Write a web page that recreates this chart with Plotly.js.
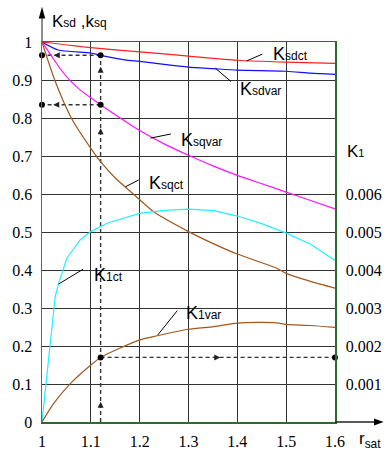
<!DOCTYPE html>
<html>
<head>
<meta charset="utf-8">
<script src="https://cdn.plot.ly/plotly-3.0.1.min.js"></script>
<style>html,body{margin:0;padding:0;background:#fff;}#chart{width:386px;height:450px;}</style>
</head>
<body>
<div id="chart"></div>
<script>
// ---- data ----
const ksdctR  = [1.0, 1.1, 1.2, 1.3, 1.4, 1.5, 1.6];
const ksdctV  = [1.0, 0.985, 0.974, 0.963, 0.952, 0.947, 0.944];

const ksdvarR = [1.0, 1.033, 1.1, 1.12, 1.17, 1.2, 1.25, 1.3, 1.35, 1.4, 1.5, 1.55, 1.6];
const ksdvarV = [1.0, 0.979, 0.971, 0.965, 0.953, 0.949, 0.941, 0.934, 0.93, 0.926, 0.923, 0.918, 0.915];

const ksqvarR = [1.0, 1.02, 1.04, 1.06, 1.08, 1.1, 1.12, 1.16, 1.2, 1.25, 1.3, 1.35, 1.4, 1.45, 1.5, 1.55, 1.6];
const ksqvarV = [1.0, 0.962, 0.925, 0.895, 0.872, 0.853, 0.835, 0.8, 0.767, 0.732, 0.702, 0.674, 0.649, 0.627, 0.605, 0.583, 0.561];

const ksqctR  = [1.0, 1.026, 1.06, 1.1, 1.12, 1.15, 1.187, 1.229, 1.3, 1.379, 1.4, 1.482, 1.5, 1.55, 1.6];
const ksqctV  = [1.0, 0.9, 0.8, 0.72, 0.685, 0.642, 0.6, 0.553, 0.501, 0.453, 0.442, 0.404, 0.391, 0.37, 0.352];

const k1ctR   = [1.0, 1.027, 1.034, 1.051, 1.078, 1.1, 1.133, 1.2, 1.25, 1.3, 1.352, 1.4, 1.45, 1.5, 1.55, 1.6];
const k1ctV   = [0, 0.0033, 0.00365, 0.00431, 0.00479, 0.00501, 0.00523, 0.00549, 0.00557, 0.0056, 0.00556, 0.00542, 0.00522, 0.00497, 0.00468, 0.00425];

const k1varR  = [1.0, 1.024, 1.058, 1.1, 1.12, 1.2, 1.236, 1.3, 1.352, 1.4, 1.44, 1.48, 1.5, 1.55, 1.6];
const k1varV  = [0, 0.00049, 0.00101, 0.0015, 0.0017, 0.00216, 0.00227, 0.00244, 0.00251, 0.0026, 0.00262, 0.00261, 0.00257, 0.00254, 0.00249];

// reading example at r_sat = 1.12
const readR = 1.12;
const readKsd = 0.965;
const readKsq = 0.835;
const readK1 = 0.0017;

const xTicks = [1, 1.1, 1.2, 1.3, 1.4, 1.5, 1.6];
const yTicks = [0, 0.1, 0.2, 0.3, 0.4, 0.5, 0.6, 0.7, 0.8, 0.9, 1];
const y2Ticks = [0.001, 0.002, 0.003, 0.004, 0.005, 0.006];

const rMin = 1.0, rMax = 1.6;

// ---- styles ----
const brown = '#a0581e';
const dashStyle = {color: '#333', width: 1.4, dash: '4px,3px'};
function curve(x, y, color, yaxis, smooth) {
  const ln = {color: color, width: 1.2};
  if (smooth) { ln.shape = 'spline'; ln.smoothing = 0.6; }
  return {x: x, y: y, type: 'scatter', mode: 'lines', yaxis: yaxis || 'y', line: ln, hoverinfo: 'skip'};
}
function dashed(x, y, yaxis) {
  return {x: x, y: y, type: 'scatter', mode: 'lines', yaxis: yaxis || 'y',
          line: dashStyle, hoverinfo: 'skip', cliponaxis: false};
}
function dots(x, y, yaxis) {
  return {x: x, y: y, type: 'scatter', mode: 'markers', yaxis: yaxis || 'y',
          marker: {color: '#000', size: 6}, hoverinfo: 'skip', cliponaxis: false};
}

const traces = [
  dashed([readR, readR], [0, readKsd]),
  dashed([readR, rMin], [readKsd, readKsd]),
  dashed([readR, rMin], [readKsq, readKsq]),
  dashed([readR, rMax], [readK1, readK1], 'y2'),
  curve(ksdctR, ksdctV, '#ff2020', 'y', true),
  curve(ksdvarR, ksdvarV, '#1010ff', 'y', true),
  curve(ksqvarR, ksqvarV, '#ff10ff', 'y', true),
  curve(ksqctR, ksqctV, brown, 'y', true),
  curve(k1ctR, k1ctV, '#20f0ff', 'y2', false),
  curve(k1varR, k1varV, brown, 'y2', true),
  dots([rMin, readR, rMin, readR], [readKsd, readKsd, readKsq, readKsq]),
  dots([readR, rMax], [readK1, readK1], 'y2')
];

const labFont = {family: 'Liberation Sans, Arial, sans-serif', size: 18, color: '#000'};
function lab(x, y, main, sub, yref) {
  return {x: x, y: y, xref: 'x', yref: yref || 'y', xanchor: 'left', yanchor: 'middle',
          showarrow: false, font: labFont,
          text: main + "<span style='font-size:12px'>" + sub + "</span>"};
}
function arrow(x, y, ax, ay, yref) {
  return {x: x, y: y, xref: 'x', yref: yref || 'y', ax: ax, ay: ay, text: '',
          showarrow: true, arrowhead: 2, arrowsize: 1, arrowwidth: 1.2, arrowcolor: '#222', standoff: 0};
}

const annotations = [
  lab(1.468, 0.968, 'K', 'sdct'),
  lab(1.402, 0.876, 'K', 'sdvar'),
  lab(1.281, 0.742, 'K', 'sqvar'),
  lab(1.215, 0.629, 'K', 'sqct'),
  lab(1.102, 0.387, 'K', '1ct'),
  lab(1.290, 0.287, 'K', '1var'),
  {x: 0.026, y: 1.055, xref: 'paper', yref: 'paper', xanchor: 'left', yanchor: 'middle', showarrow: false,
   font: {family: 'Liberation Sans, Arial, sans-serif', size: 17, color: '#000'},
   text: "K<span style='font-size:12px'>sd</span> ,k<span style='font-size:12px'>sq</span>"},
  {x: 1.035, y: 0.713, xref: 'paper', yref: 'paper', xanchor: 'left', yanchor: 'middle', showarrow: false,
   font: {family: 'Liberation Sans, Arial, sans-serif', size: 17, color: '#000'},
   text: "K<span style='font-size:11px'>1</span>"},
  {x: 1.075, y: -0.048, xref: 'paper', yref: 'paper', xanchor: 'left', yanchor: 'middle', showarrow: false,
   font: {family: 'Liberation Sans, Arial, sans-serif', size: 17, color: '#000'},
   text: "r<sub>sat</sub>"},
  arrow(1.024, readKsd, 7, 0),
  arrow(1.023, readKsq, 7, 0),
  arrow(readR, 0.935, 0, 7),
  arrow(readR, 0.773, 0, 7),
  arrow(readR, 0.053, 0, 7),
  arrow(1.365, readK1, -7, 0, 'y2')
];

const lineSeg = (x0, y0, x1, y1) => ({type: 'line', xref: 'x', yref: 'y', x0: x0, y0: y0, x1: x1, y1: y1,
                                       line: {color: '#000', width: 1}});
const shapes = [
  // leader lines for curve labels
  lineSeg(1.419, 0.950, 1.451, 0.968),
  lineSeg(1.355, 0.931, 1.387, 0.896),
  lineSeg(1.222, 0.747, 1.264, 0.758),
  lineSeg(1.171, 0.619, 1.198, 0.637),
  lineSeg(1.034, 0.363, 1.084, 0.402),
  lineSeg(1.237, 0.229, 1.277, 0.293),
  // axis extensions with arrowheads
  {type: 'line', xref: 'paper', yref: 'paper', x0: 0, y0: 1, x1: 0, y1: 1.07, line: {color: '#666', width: 1.5}},
  {type: 'path', xref: 'paper', yref: 'paper', path: 'M -0.011 1.062 L 0.011 1.062 L 0 1.093 Z', fillcolor: '#000', line: {width: 0}},
  {type: 'line', xref: 'paper', yref: 'paper', x0: 1, y0: 0, x1: 1.14, y1: 0, line: {color: '#222', width: 1.5}},
  {type: 'path', xref: 'paper', yref: 'paper', path: 'M 1.133 -0.009 L 1.133 0.009 L 1.166 0 Z', fillcolor: '#000', line: {width: 0}}
];

const tickFont = {family: "'Liberation Serif', 'Times New Roman', serif", size: 16, color: '#000'};

const layout = {
  width: 386, height: 450,
  margin: {l: 42, r: 51, t: 42, b: 28, pad: 0},
  paper_bgcolor: '#fff', plot_bgcolor: '#fff',
  showlegend: false,
  xaxis: {range: [rMin, rMax], tickvals: xTicks, ticks: '', showgrid: true, gridcolor: '#333', gridwidth: 1,
          zeroline: false, showline: true, linecolor: '#2d6a2d', linewidth: 1.5, mirror: true,
          tickfont: tickFont, ticklabelstandoff: 4, fixedrange: true},
  yaxis: {range: [0, 1], tickvals: yTicks, ticks: '', showgrid: true, gridcolor: '#333', gridwidth: 1,
          zeroline: false, showline: true, linecolor: '#666', linewidth: 1.5,
          tickfont: tickFont, ticklabelstandoff: 5, fixedrange: true},
  yaxis2: {range: [0, 0.01], tickvals: y2Ticks, ticks: '', overlaying: 'y', side: 'right', showgrid: false,
           zeroline: false, showline: true, linecolor: '#2d6a2d', linewidth: 1.5,
           tickfont: tickFont, ticklabelstandoff: 6, fixedrange: true},
  annotations: annotations,
  shapes: shapes
};

Plotly.newPlot('chart', traces, layout, {displayModeBar: false, staticPlot: true});
</script>
</body>
</html>
